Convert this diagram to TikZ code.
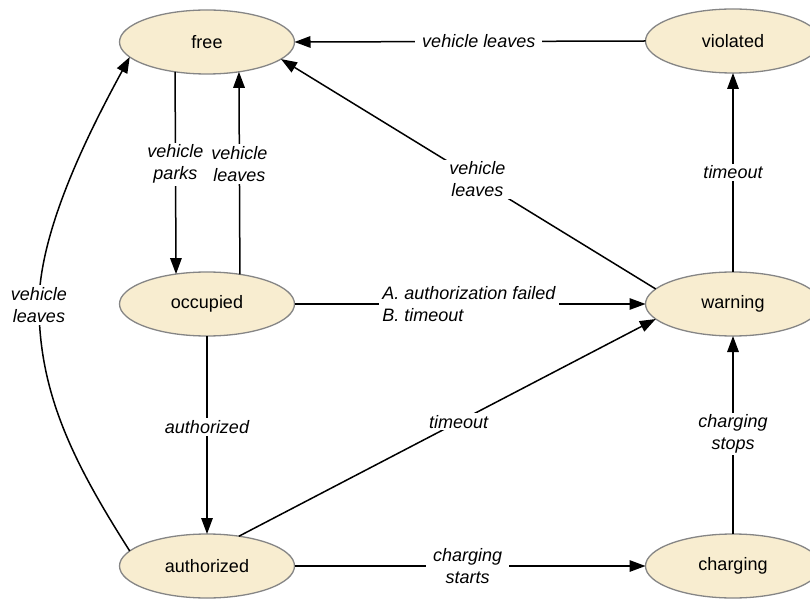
\documentclass[tikz,border=0pt]{standalone}
\usepackage{fontspec}
\setmainfont{Liberation Sans}
\usetikzlibrary{arrows.meta,shapes.geometric}
\definecolor{statefill}{HTML}{F8EDD0}
\definecolor{stategray}{HTML}{858585}
\begin{document}
\begin{tikzpicture}[x=1pt,y=-1pt,
  state/.style={ellipse, draw=stategray, line width=1.3pt, fill=statefill,
    minimum width=175pt, minimum height=64pt, inner sep=0pt, outer sep=0pt,
    font=\fontsize{18}{22}\selectfont},
  lbl/.style={fill=white, inner xsep=7pt, inner ysep=2pt, align=center,
    font=\fontsize{18}{22}\selectfont\itshape},
  arr/.style={line width=1.5pt, -{Triangle[length=16pt,width=11.5pt]}}]
\useasboundingbox (0,0) rectangle (810,601);

\node[state] (free)       at (207,42)  {free};
\node[state] (violated)   at (733,41)  {violated};
\node[state] (occupied)   at (207,304) {occupied};
\node[state] (warning)    at (733,304) {warning};
\node[state] (authorized) at (207,566) {authorized};
\node[state] (charging)   at (733,566) {charging};

\draw[arr] (violated.west) -- node[lbl,pos=0.475] {vehicle leaves} (free.east);
\draw[arr] (free.223.98) -- node[lbl,pos=0.457] {vehicle\\parks} (occupied.136.02);
\draw[arr] (occupied.42.94) -- node[lbl,pos=0.545] {vehicle\\leaves} (free.317.06);
\draw[arr] (warning.169) -- node[lbl,pos=0.476] {vehicle\\leaves} (free.347.7);
\draw[arr] (occupied.east) -- node[lbl,align=left,inner xsep=3pt,pos=0.497]
  {A. authorization failed\\B. timeout} (warning.west);
\draw[arr] (occupied.south) -- node[lbl,pos=0.46] {authorized} (authorized.north);
\draw[arr] (authorized.43) -- node[lbl,pos=0.527] {timeout} (warning.191);
\draw[arr] (authorized.east) -- node[lbl,pos=0.493] {charging\\starts} (charging.west);
\draw[arr] (charging.north) -- node[lbl,pos=0.505] {charging\\stops} (warning.south);
\draw[arr] (warning.north) -- node[lbl,pos=0.5] {timeout} (violated.south);
\draw[arr] (authorized.169) .. controls (75,465) and (39,395) .. (39,305)
  node[lbl] {vehicle\\leaves}
  .. controls (39,230) and (90,130) .. (free.191);
\end{tikzpicture}
\end{document}
